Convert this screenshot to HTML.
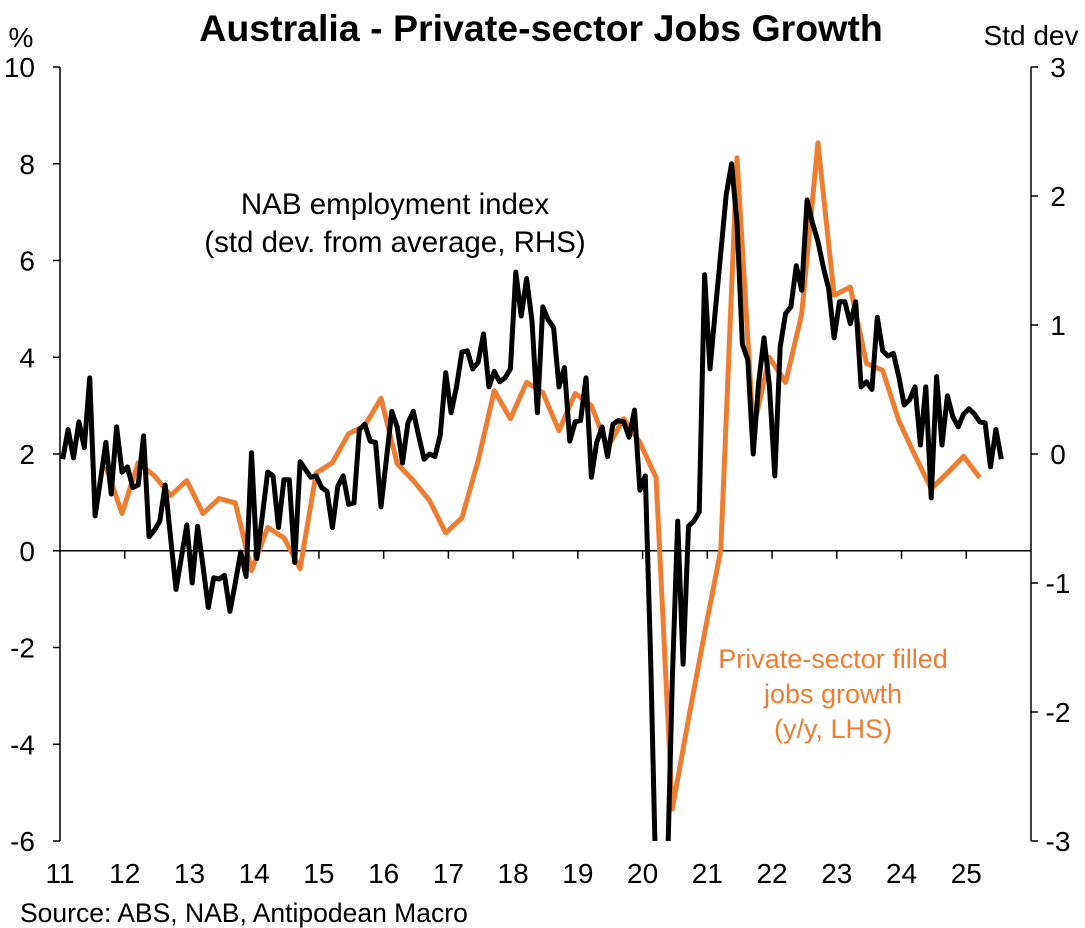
<!DOCTYPE html>
<html><head><meta charset="utf-8"><style>
html,body{margin:0;padding:0;background:#fff;}
svg{display:block;font-family:"Liberation Sans",Arial,sans-serif;}
</style></head><body>
<svg id="chart" width="1085" height="928" viewBox="0 0 1085 928">
<defs><clipPath id="plotclip"><rect x="60" y="60" width="972" height="781"/></clipPath></defs>
<text x="541" y="41" text-anchor="middle" font-size="37.5" font-weight="bold">Australia - Private-sector Jobs Growth</text>
<text x="21" y="47" text-anchor="middle" font-size="28">%</text>
<text x="1031" y="45" text-anchor="middle" font-size="28">Std dev</text>
<g id="axes"></g>
<g id="series" clip-path="url(#plotclip)"></g>
<text x="395" y="214" text-anchor="middle" font-size="29.5">NAB employment index</text>
<text x="395" y="252" text-anchor="middle" font-size="29.5">(std dev. from average, RHS)</text>
<text x="833" y="668" text-anchor="middle" font-size="27" fill="#ED7D31">Private-sector filled</text>
<text x="833" y="703" text-anchor="middle" font-size="27" fill="#ED7D31">jobs growth</text>
<text x="833" y="738" text-anchor="middle" font-size="27" fill="#ED7D31">(y/y, LHS)</text>
<text x="20" y="922" font-size="26.5">Source: ABS, NAB, Antipodean Macro</text>
</svg>
<script>
const yearLabels = ["11","12","13","14","15","16","17","18","19","20","21","22","23","24","25"];
const leftTicks = [10,8,6,4,2,0,-2,-4,-6];
const rightTicks = [3,2,1,0,-1,-2,-3];
// NAB employment index, monthly from Jan 2011 (std dev, RHS)
const nabValues = [-0.04,0.19,-0.03,0.25,0.05,0.59,-0.48,-0.20,0.09,-0.31,0.21,-0.14,-0.10,-0.26,-0.24,0.14,-0.64,-0.59,-0.52,-0.24,-0.65,-1.05,-0.80,-0.55,-1.00,-0.56,-0.87,-1.19,-0.96,-0.97,-0.94,-1.22,-1.00,-0.76,-0.95,0.01,-0.81,-0.48,-0.14,-0.17,-0.57,-0.20,-0.20,-0.84,-0.06,-0.12,-0.18,-0.17,-0.26,-0.29,-0.57,-0.25,-0.17,-0.39,-0.38,0.19,0.23,0.10,0.09,-0.41,-0.04,0.33,0.21,-0.07,0.24,0.33,0.14,-0.04,0.00,-0.02,0.15,0.63,0.32,0.52,0.79,0.80,0.66,0.71,0.93,0.52,0.64,0.56,0.59,0.66,1.41,1.07,1.36,1.03,0.32,1.14,1.04,0.98,0.52,0.67,0.10,0.25,0.26,0.59,-0.18,0.09,0.21,-0.02,0.23,0.26,0.25,0.13,0.34,-0.28,-0.17,-1.60,-3.4,-3.4,-3.4,-1.75,-0.52,-1.63,-0.56,-0.52,-0.45,1.39,0.66,1.12,1.56,2.01,2.25,1.79,0.85,0.73,0.00,0.55,0.90,0.53,-0.17,0.83,1.09,1.14,1.46,1.27,1.97,1.79,1.65,1.45,1.28,0.90,1.18,1.18,1.01,1.18,0.52,0.56,0.50,1.06,0.80,0.76,0.78,0.60,0.38,0.42,0.52,0.07,0.52,-0.34,0.60,0.07,0.45,0.29,0.21,0.31,0.35,0.31,0.25,0.24,-0.10,0.19,-0.04];
// Private-sector filled jobs growth, quarterly from Sep 2011 (% y/y, LHS)
const jobsValues = [1.74,0.77,1.82,1.55,1.14,1.45,0.77,1.08,0.99,-0.41,0.48,0.27,-0.37,1.61,1.82,2.42,2.59,3.15,1.80,1.45,1.04,0.37,0.68,1.86,3.31,2.73,3.48,3.27,2.48,3.25,3.00,2.13,2.73,2.24,1.51,-5.34,-3.48,-1.70,0.02,8.12,2.51,4.00,3.48,4.89,8.43,5.28,5.45,3.87,3.73,2.69,1.97,1.28,1.61,1.95,1.51];

const NS = "http://www.w3.org/2000/svg";
const X0 = 60, X1 = 1031, YT = 67, YB = 841;
function xYear(t){ return X0 + (t - 2011) * (X1 - X0) / 15; }
function xMonth(i){ return xYear(2011 + (i + 0.5) / 12); }
function xQuarter(k){ return xYear(2011 + (8.5 + 3 * k) / 12); }
function yLeft(v){ return YT + (10 - v) * (YB - YT) / 16; }
function yRight(v){ return YT + (3 - v) * (YB - YT) / 6; }
function mk(tag, attrs, parent){ const e = document.createElementNS(NS, tag); for (const k in attrs) e.setAttribute(k, attrs[k]); parent.appendChild(e); return e; }

const axes = document.getElementById('axes');
let l = mk('line', {x1:X0, y1:YT, x2:X0, y2:YB, stroke:'#000', 'stroke-width':1.5}, axes);


l = mk('line', {x1:X1, y1:YT, x2:X1, y2:YB, stroke:'#000', 'stroke-width':1.5}, axes);


l = mk('line', {x1:X0, y1:yLeft(0), x2:X1, y2:yLeft(0), stroke:'#000', 'stroke-width':1.5}, axes);


leftTicks.forEach(v => {
  const y = yLeft(v);
  const t = mk('line', {x1:X0-7, y1:y, x2:X0, y2:y, stroke:'#000', 'stroke-width':1.5}, axes);
  
  
  const tx = mk('text', {x:35, y:y+10, 'text-anchor':'end', 'font-size':28}, axes);
  tx.textContent = v;
  
  
});
rightTicks.forEach(v => {
  const y = yRight(v);
  const t = mk('line', {x1:X1, y1:y, x2:X1+7, y2:y, stroke:'#000', 'stroke-width':1.5}, axes);
  
  
  const tx = mk('text', {x:1058, y:y+10, 'text-anchor':'middle', 'font-size':28}, axes);
  tx.textContent = v;
  
  
});
yearLabels.forEach((lab, i) => {
  const x = xYear(2011 + i);
  if (i > 0) {
    const t = mk('line', {x1:x, y1:yLeft(0), x2:x, y2:yLeft(0)+8, stroke:'#000', 'stroke-width':1.5}, axes);
    
    
  }
  const tx = mk('text', {x:x, y:883, 'text-anchor':'middle', 'font-size':28}, axes);
  tx.textContent = lab;
  
  
});

const series = document.getElementById('series');
const jp = jobsValues.map((v, k) => xQuarter(k).toFixed(1) + ',' + yLeft(v).toFixed(1)).join(' ');
const jl = mk('polyline', {points:jp, fill:'none', stroke:'#ED7D31', 'stroke-width':5, 'stroke-linejoin':'round'}, series);


const np = nabValues.map((v, i) => xMonth(i).toFixed(1) + ',' + yRight(v).toFixed(1)).join(' ');
const nl = mk('polyline', {points:np, fill:'none', stroke:'#000', 'stroke-width':5, 'stroke-linejoin':'round'}, series);


</script>
</body></html>
